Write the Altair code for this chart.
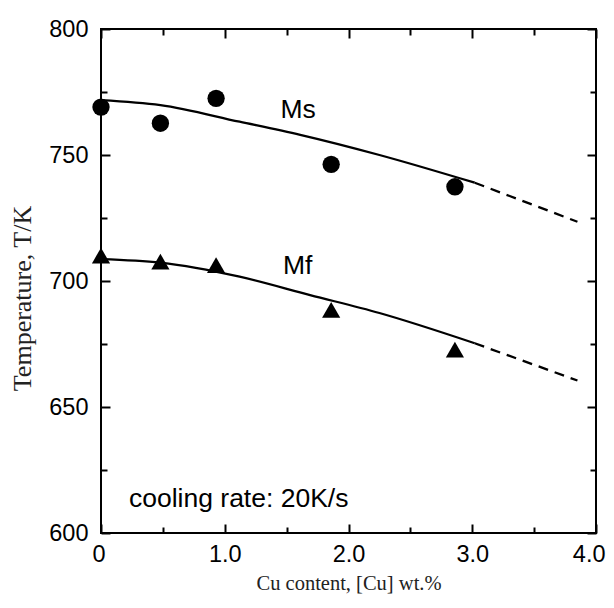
import altair as alt
import pandas as pd

# ---- data ----
cu_points = [0.0, 0.48, 0.93, 1.86, 2.86]
ms_values = [769.0, 762.6, 772.5, 746.3, 737.4]
mf_values = [710.1, 707.7, 706.3, 688.5, 672.8]

ms_fit_x = [0.0, 0.48, 1.12, 1.61, 2.25, 3.02]
ms_fit_y = [771.8, 769.8, 763.2, 758.0, 750.0, 739.0]
ms_ext_x = [3.02, 3.85]
ms_ext_y = [739.0, 723.5]

mf_fit_x = [0.0, 0.48, 1.12, 1.69, 2.25, 3.02]
mf_fit_y = [708.7, 707.3, 701.7, 694.4, 687.3, 675.3]
mf_ext_x = [3.02, 3.85]
mf_ext_y = [675.3, 660.5]

label_texts = ["Ms", "Mf", "cooling rate: 20K/s"]
label_x = [1.45, 1.47, 0.226]
label_y = [764.7, 702.6, 610.3]

x_major = [0, 1, 2, 3, 4]
x_minor = [0.5, 1.5, 2.5, 3.5]
y_major = [600, 650, 700, 750, 800]
y_minor = [625, 675, 725, 775]

x_title = "Cu content, [Cu] wt.%"
y_title = "Temperature, T/K"

# ---- build ----
xs = alt.Scale(domain=[0, 4], nice=False, zero=False)
ys = alt.Scale(domain=[600, 800], nice=False, zero=False)

LABEL_FONT = "Liberation Sans"
TITLE_FONT = "Liberation Serif"


def tick_axis(orient, values, size):
    return alt.Axis(orient=orient, values=values, tickSize=size, offset=-size,
                    domain=False, grid=False, labels=False, title="",
                    tickColor="black", tickWidth=2)


x_main_axis = alt.Axis(orient="bottom", values=x_major, tickSize=9, offset=-9,
                       domain=False, grid=False, tickColor="black", tickWidth=2,
                       labelExpr="datum.value == 0 ? '0' : format(datum.value, '.1f')",
                       labelFont=LABEL_FONT, labelFontSize=23.5, labelColor="black",
                       labelPadding=9, labelFlush=True, labelFlushOffset=9,
                       labelOverlap=False,
                       title=x_title, titleFont=TITLE_FONT, titleFontSize=20.5,
                       titleFontWeight="normal", titleColor="#222", titlePadding=8)
y_main_axis = alt.Axis(orient="left", values=y_major, tickSize=9, offset=-9,
                       domain=False, grid=False, tickColor="black", tickWidth=2,
                       labelFont=LABEL_FONT, labelFontSize=23.5, labelColor="black",
                       labelPadding=13, labelOverlap=False,
                       title=y_title, titleFont=TITLE_FONT, titleFontSize=26,
                       titleFontWeight="normal", titleColor="#222", titlePadding=13,
                       titleY=269)

ms_df = pd.DataFrame({"x": cu_points, "y": ms_values})
mf_df = pd.DataFrame({"x": cu_points, "y": mf_values})
ms_fit_df = pd.DataFrame({"x": ms_fit_x, "y": ms_fit_y})
mf_fit_df = pd.DataFrame({"x": mf_fit_x, "y": mf_fit_y})
ms_ext_df = pd.DataFrame({"x": ms_ext_x, "y": ms_ext_y})
mf_ext_df = pd.DataFrame({"x": mf_ext_x, "y": mf_ext_y})
lab_df = pd.DataFrame({"x": label_x, "y": label_y, "t": label_texts})

ms_pts = alt.Chart(ms_df).mark_point(shape="circle", filled=True, size=300,
                                     color="black", opacity=1).encode(
    x=alt.X("x:Q", scale=xs, axis=x_main_axis),
    y=alt.Y("y:Q", scale=ys, axis=y_main_axis),
)
mf_pts = alt.Chart(mf_df).mark_point(shape="triangle-up", filled=True, size=330,
                                     color="black", opacity=1).encode(
    x=alt.X("x:Q", scale=xs, axis=tick_axis("top", x_major, 9)),
    y=alt.Y("y:Q", scale=ys, axis=tick_axis("right", y_major, 9)),
)
ms_line = alt.Chart(ms_fit_df).mark_line(color="black", strokeWidth=2.3,
                                         interpolate="monotone").encode(
    x=alt.X("x:Q", scale=xs, axis=tick_axis("bottom", x_minor, 6)),
    y=alt.Y("y:Q", scale=ys, axis=tick_axis("left", y_minor, 6)),
)
mf_line = alt.Chart(mf_fit_df).mark_line(color="black", strokeWidth=2.3,
                                         interpolate="monotone").encode(
    x=alt.X("x:Q", scale=xs, axis=tick_axis("top", x_minor, 6)),
    y=alt.Y("y:Q", scale=ys, axis=tick_axis("right", y_minor, 6)),
)
ms_dash = alt.Chart(ms_ext_df).mark_line(color="black", strokeWidth=2.3,
                                         strokeDash=[10, 7]).encode(
    x=alt.X("x:Q", scale=xs, axis=None),
    y=alt.Y("y:Q", scale=ys, axis=None),
)
mf_dash = alt.Chart(mf_ext_df).mark_line(color="black", strokeWidth=2.3,
                                         strokeDash=[10, 7]).encode(
    x=alt.X("x:Q", scale=xs, axis=None),
    y=alt.Y("y:Q", scale=ys, axis=None),
)
labels = alt.Chart(lab_df).mark_text(align="left", baseline="alphabetic",
                                     font=LABEL_FONT, fontSize=26.5,
                                     color="black").encode(
    x=alt.X("x:Q", scale=xs, axis=None),
    y=alt.Y("y:Q", scale=ys, axis=None),
    text="t:N",
)

chart = alt.layer(ms_pts, mf_pts, ms_line, mf_line, ms_dash, mf_dash, labels).resolve_axis(
    x="independent", y="independent"
).properties(
    width=495, height=504,
    autosize=alt.AutoSizeParams(type="none"),
    padding={"left": 93, "top": 21, "right": 10, "bottom": 63},
    background="white",
).configure_view(stroke="black", strokeWidth=2)

chart.save("out.html", embed_options={"renderer": "svg", "actions": False})
